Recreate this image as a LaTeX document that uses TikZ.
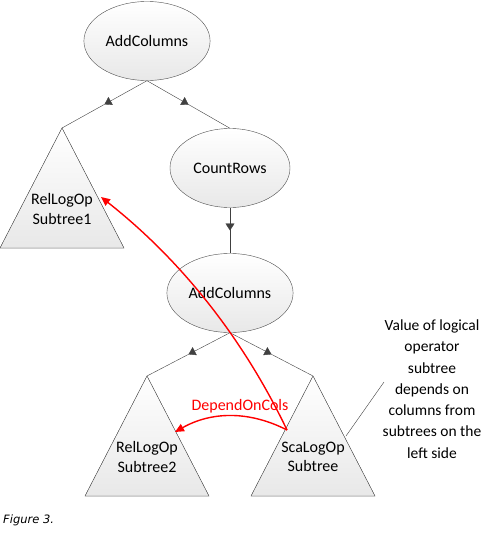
\documentclass[tikz,border=0pt]{standalone}
\usepackage{fontspec}
\setmainfont{Carlito}
\newfontfamily\captionfont{DejaVu Sans}
\usetikzlibrary{shapes.geometric, arrows.meta, decorations.markings, positioning}

\tikzset{
  opnode/.style={ellipse, draw=black!70, minimum width=120pt, minimum height=79pt,
    top color=white, bottom color=black!9, font=\fontsize{16}{19.5}\selectfont},
  subtree/.style={draw=black!70, top color=white, bottom color=black!9},
  treetext/.style={align=center, font=\fontsize{16}{19.5}\selectfont},
  treeedge/.style={draw=black!75, postaction={decorate},
    decoration={markings, mark=at position 0.5 with {\arrow{Triangle[length=7pt,width=9pt]}}}},
  dependarrow/.style={red, line width=1.4pt, -{Triangle[length=9pt,width=8pt]}},
}

\begin{document}
\begin{tikzpicture}[x=1pt, y=-1pt]
\useasboundingbox (0,0) rectangle (495,541);

% operator nodes
\node[opnode] (add1) at (147,41) {AddColumns};
\node[opnode] (cnt)  at (230,168) {CountRows};
\node[opnode] (add2) at (230,293) {AddColumns};

% subtrees
\coordinate (rel1) at (62,128);
\coordinate (rel2) at (147,376);
\coordinate (sca)  at (313,376);
\foreach \t in {rel1,rel2,sca}{
    \filldraw[subtree] (\t) -- ++(62,120) -- ++(-124,0) -- cycle;
}
\node[treetext] (rel1txt) at (62,209) {RelLogOp\\Subtree1};
\node[treetext] (rel2txt) at (147,457) {RelLogOp\\Subtree2};
\node[treetext] (scatxt)  at (313,457) {ScaLogOp\\Subtree};

% tree edges
\draw[treeedge] (add1.south) -- (rel1);
\draw[treeedge] (add1.south) -- (cnt.north);
\draw[treeedge] (cnt.south) -- (add2.north);
\draw[treeedge] (add2.south) -- (rel2);
\draw[treeedge] (add2.south) -- (sca);

% dependencies
\coordinate (dep)     at (287,430);
\coordinate (rel1tip) at (101,197);
\coordinate (rel2tip) at (175,432);
\draw[dependarrow] (dep) .. controls (243,338) and (181,260) .. (rel1tip);
\draw[dependarrow] (dep) .. controls (250,411) and (212,411) .. (rel2tip);
\node[red, font=\fontsize{16}{19.5}\selectfont] (deplbl) at (240,406) {DependOnCols};

% note
\node[align=center, font=\fontsize{15.5}{21.3}\selectfont] (note) at (432,389)
  {Value of logical\\operator\\subtree\\depends on\\columns from\\subtrees on the\\left side};
\coordinate (noteend) at (384,382);
\coordinate (scaedge) at (346,436);
\draw[black!75] (scaedge) -- (noteend);

% caption
\node[anchor=base west, inner sep=0pt, font=\captionfont\itshape\fontsize{11.5}{13}\selectfont] (caption) at (3,523) {Figure 3.};
\end{tikzpicture}
\end{document}
